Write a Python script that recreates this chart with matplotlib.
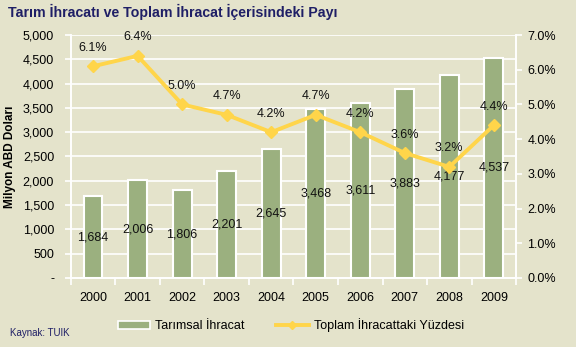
import matplotlib.pyplot as plt
from matplotlib.lines import Line2D
from matplotlib.patches import Patch

plt.rcParams['font.family'] = ['Liberation Sans', 'DejaVu Sans']

# --- veriler ---
yillar = ['2000', '2001', '2002', '2003', '2004', '2005', '2006', '2007', '2008', '2009']
tarim_ihracat = [1684, 2006, 1806, 2201, 2645, 3468, 3611, 3883, 4177, 4537]
toplam_pay = [6.1, 6.4, 5.0, 4.7, 4.2, 4.7, 4.2, 3.6, 3.2, 4.4]
sol_etiketler = ['-', '500', '1,000', '1,500', '2,000', '2,500', '3,000', '3,500', '4,000', '4,500', '5,000']

BG = '#E4E3CB'
BAR = '#9BB07F'
SARI = '#FFD54A'
LACIVERT = '#1F1F66'
FS = 9

fig = plt.figure(figsize=(5.76, 3.47), dpi=100, facecolor=BG)
ax = fig.add_axes([0.123, 0.199, 0.773, 0.700], facecolor=BG)

x = range(len(yillar))
ax.bar(x, tarim_ihracat, width=0.42, color=BAR, edgecolor='white', linewidth=1.5, zorder=3)
for i, v in enumerate(tarim_ihracat):
    ax.text(i, v / 2, f'{v:,}', ha='center', va='center', fontsize=FS, color='#111111', zorder=6)

ax.set_ylim(0, 5000)
ax.set_xlim(-0.5, len(yillar) - 0.5)
ax.set_yticks(range(0, 5001, 500))
ax.set_yticklabels(sol_etiketler)
ax.set_xticks(x)
ax.set_xticklabels(yillar)
ax.set_xticks([i + 0.5 for i in range(-1, len(yillar))], minor=True)
ax.tick_params(axis='x', which='major', length=0, pad=10, labelsize=FS)
ax.tick_params(axis='x', which='minor', length=5, color='white', width=1.2)
ax.tick_params(axis='y', length=4, color='white', width=1.2, labelsize=FS, pad=8)
ax.grid(axis='y', color='white', linewidth=1.2, zorder=0)
ax.spines['top'].set_visible(False)
for s in ['left', 'right', 'bottom']:
    ax.spines[s].set_color('white')
    ax.spines[s].set_linewidth(1.2)
ax.set_ylabel('Milyon ABD Doları', fontsize=8.5, fontweight='bold', labelpad=5)

ax2 = ax.twinx()
ax2.plot(x, toplam_pay, color=SARI, linewidth=2.8, marker='D', markersize=6.5, zorder=5)
for i, v in enumerate(toplam_pay):
    ax2.annotate(f'{v:.1f}%', (i, v), textcoords='offset points', xytext=(0, 9),
                 ha='center', va='bottom', fontsize=FS, color='#111111')
ax2.set_ylim(0, 7)
ax2.set_yticks(range(0, 8))
ax2.set_yticklabels([f'{t:.1f}%' for t in range(0, 8)])
ax2.tick_params(axis='y', length=4, color='white', width=1.2, labelsize=FS, pad=4)
ax2.spines['top'].set_visible(False)
for s in ['left', 'right', 'bottom']:
    ax2.spines[s].set_color('white')
    ax2.spines[s].set_linewidth(1.2)

fig.text(0.014, 0.965, 'Tarım İhracatı ve Toplam İhracat İçerisindeki Payı',
         fontsize=10.2, fontweight='bold', color=LACIVERT, va='center')
fig.text(0.017, 0.04, 'Kaynak: TUIK', fontsize=7, color=LACIVERT, va='center')

handles = [Patch(facecolor=BAR, edgecolor='white', linewidth=1.2, label='Tarımsal İhracat'),
           Line2D([0], [0], color=SARI, linewidth=2.8, marker='D', markersize=4, label='Toplam İhracattaki Yüzdesi')]
fig.legend(handles=handles, loc='center', bbox_to_anchor=(0.505, 0.063), ncol=2, frameon=False,
           fontsize=FS, handlelength=2.6, handleheight=0.6, columnspacing=2.5, handletextpad=0.4)

fig.savefig('out.png', dpi=100, facecolor=BG)
